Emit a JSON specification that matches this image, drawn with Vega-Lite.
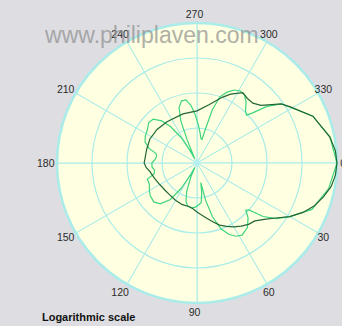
{
  "$schema": "https://vega.github.io/schema/vega-lite/v6.json",
  "width": 280,
  "height": 280,
  "autosize": "none",
  "padding": {"left": 57, "top": 23, "right": 5, "bottom": 23},
  "background": "#dedee2",
  "config": {"view": {"stroke": null}, "text": {"font": "Liberation Sans"}},
  "datasets": {
    "sectors": [
      {"sector": 0, "span": 30}, {"sector": 30, "span": 30}, {"sector": 60, "span": 30},
      {"sector": 90, "span": 30}, {"sector": 120, "span": 30}, {"sector": 150, "span": 30},
      {"sector": 180, "span": 30}, {"sector": 210, "span": 30}, {"sector": 240, "span": 30},
      {"sector": 270, "span": 30}, {"sector": 300, "span": 30}, {"sector": 330, "span": 30}
    ],
    "rings": [{"ring": 1}, {"ring": 2}, {"ring": 3}, {"ring": 4}],
    "angleLabels": [
      {"a": 0, "lab": "0"}, {"a": 30, "lab": "30"}, {"a": 60, "lab": "60"}, {"a": 90, "lab": "90"},
      {"a": 120, "lab": "120"}, {"a": 150, "lab": "150"}, {"a": 180, "lab": "180"}, {"a": 210, "lab": "210"},
      {"a": 240, "lab": "240"}, {"a": 270, "lab": "270"}, {"a": 300, "lab": "300"}, {"a": 330, "lab": "330"}
    ],
    "scatter": [
      {"pol": "parallel", "a": 0, "logI": 0},
      {"pol": "parallel", "a": 11, "logI": -0.17},
      {"pol": "parallel", "a": 22, "logI": -0.46},
      {"pol": "parallel", "a": 30, "logI": -0.94},
      {"pol": "parallel", "a": 35, "logI": -1.23},
      {"pol": "parallel", "a": 39, "logI": -1.57},
      {"pol": "parallel", "a": 42, "logI": -2.0},
      {"pol": "parallel", "a": 44, "logI": -2.06},
      {"pol": "parallel", "a": 47, "logI": -1.86},
      {"pol": "parallel", "a": 52, "logI": -1.66},
      {"pol": "parallel", "a": 58, "logI": -1.57},
      {"pol": "parallel", "a": 62, "logI": -1.63},
      {"pol": "parallel", "a": 66, "logI": -1.77},
      {"pol": "parallel", "a": 70, "logI": -2.0},
      {"pol": "parallel", "a": 74, "logI": -2.4},
      {"pol": "parallel", "a": 77, "logI": -2.91},
      {"pol": "parallel", "a": 79, "logI": -3.43},
      {"pol": "parallel", "a": 81, "logI": -3.14},
      {"pol": "parallel", "a": 84, "logI": -2.86},
      {"pol": "parallel", "a": 88, "logI": -2.8},
      {"pol": "parallel", "a": 92, "logI": -2.74},
      {"pol": "parallel", "a": 97, "logI": -2.71},
      {"pol": "parallel", "a": 102, "logI": -2.74},
      {"pol": "parallel", "a": 106, "logI": -2.86},
      {"pol": "parallel", "a": 110, "logI": -3.14},
      {"pol": "parallel", "a": 114, "logI": -3.57},
      {"pol": "parallel", "a": 116, "logI": -3.86},
      {"pol": "parallel", "a": 118, "logI": -3.66},
      {"pol": "parallel", "a": 122, "logI": -3.14},
      {"pol": "parallel", "a": 126, "logI": -2.71},
      {"pol": "parallel", "a": 132, "logI": -2.43},
      {"pol": "parallel", "a": 138, "logI": -2.34},
      {"pol": "parallel", "a": 145, "logI": -2.37},
      {"pol": "parallel", "a": 150, "logI": -2.43},
      {"pol": "parallel", "a": 156, "logI": -2.51},
      {"pol": "parallel", "a": 162, "logI": -2.51},
      {"pol": "parallel", "a": 166, "logI": -2.74},
      {"pol": "parallel", "a": 170, "logI": -2.77},
      {"pol": "parallel", "a": 175, "logI": -2.71},
      {"pol": "parallel", "a": 180, "logI": -2.71},
      {"pol": "parallel", "a": 185, "logI": -2.8},
      {"pol": "parallel", "a": 190, "logI": -2.83},
      {"pol": "parallel", "a": 193, "logI": -2.8},
      {"pol": "parallel", "a": 197, "logI": -2.57},
      {"pol": "parallel", "a": 202, "logI": -2.4},
      {"pol": "parallel", "a": 207, "logI": -2.34},
      {"pol": "parallel", "a": 214, "logI": -2.29},
      {"pol": "parallel", "a": 220, "logI": -2.2},
      {"pol": "parallel", "a": 225, "logI": -2.23},
      {"pol": "parallel", "a": 230, "logI": -2.43},
      {"pol": "parallel", "a": 234, "logI": -2.71},
      {"pol": "parallel", "a": 238, "logI": -3.14},
      {"pol": "parallel", "a": 241, "logI": -3.57},
      {"pol": "parallel", "a": 243, "logI": -3.86},
      {"pol": "parallel", "a": 245, "logI": -3.71},
      {"pol": "parallel", "a": 247, "logI": -3.29},
      {"pol": "parallel", "a": 249, "logI": -2.71},
      {"pol": "parallel", "a": 252, "logI": -2.34},
      {"pol": "parallel", "a": 256, "logI": -2.17},
      {"pol": "parallel", "a": 260, "logI": -2.17},
      {"pol": "parallel", "a": 264, "logI": -2.34},
      {"pol": "parallel", "a": 268, "logI": -2.63},
      {"pol": "parallel", "a": 272, "logI": -2.91},
      {"pol": "parallel", "a": 276, "logI": -3.14},
      {"pol": "parallel", "a": 279, "logI": -3.29},
      {"pol": "parallel", "a": 282, "logI": -3.31},
      {"pol": "parallel", "a": 284, "logI": -3.0},
      {"pol": "parallel", "a": 286, "logI": -2.43},
      {"pol": "parallel", "a": 289, "logI": -2.0},
      {"pol": "parallel", "a": 293, "logI": -1.8},
      {"pol": "parallel", "a": 297, "logI": -1.66},
      {"pol": "parallel", "a": 301, "logI": -1.6},
      {"pol": "parallel", "a": 305, "logI": -1.63},
      {"pol": "parallel", "a": 309, "logI": -1.77},
      {"pol": "parallel", "a": 313, "logI": -1.97},
      {"pol": "parallel", "a": 316, "logI": -2.03},
      {"pol": "parallel", "a": 318, "logI": -1.86},
      {"pol": "parallel", "a": 321, "logI": -1.43},
      {"pol": "parallel", "a": 325, "logI": -1.06},
      {"pol": "parallel", "a": 330, "logI": -0.86},
      {"pol": "parallel", "a": 338, "logI": -0.43},
      {"pol": "parallel", "a": 349, "logI": -0.13},
      {"pol": "parallel", "a": 360, "logI": 0},
      {"pol": "perpendicular", "a": 0, "logI": 0},
      {"pol": "perpendicular", "a": 5, "logI": -0.03},
      {"pol": "perpendicular", "a": 10, "logI": -0.11},
      {"pol": "perpendicular", "a": 15, "logI": -0.26},
      {"pol": "perpendicular", "a": 20, "logI": -0.43},
      {"pol": "perpendicular", "a": 25, "logI": -0.66},
      {"pol": "perpendicular", "a": 30, "logI": -0.94},
      {"pol": "perpendicular", "a": 35, "logI": -1.26},
      {"pol": "perpendicular", "a": 40, "logI": -1.49},
      {"pol": "perpendicular", "a": 45, "logI": -1.66},
      {"pol": "perpendicular", "a": 50, "logI": -1.71},
      {"pol": "perpendicular", "a": 55, "logI": -1.8},
      {"pol": "perpendicular", "a": 60, "logI": -1.89},
      {"pol": "perpendicular", "a": 65, "logI": -2.0},
      {"pol": "perpendicular", "a": 70, "logI": -2.11},
      {"pol": "perpendicular", "a": 75, "logI": -2.26},
      {"pol": "perpendicular", "a": 80, "logI": -2.4},
      {"pol": "perpendicular", "a": 85, "logI": -2.51},
      {"pol": "perpendicular", "a": 90, "logI": -2.6},
      {"pol": "perpendicular", "a": 95, "logI": -2.69},
      {"pol": "perpendicular", "a": 100, "logI": -2.73},
      {"pol": "perpendicular", "a": 110, "logI": -2.74},
      {"pol": "perpendicular", "a": 120, "logI": -2.77},
      {"pol": "perpendicular", "a": 130, "logI": -2.8},
      {"pol": "perpendicular", "a": 140, "logI": -2.8},
      {"pol": "perpendicular", "a": 150, "logI": -2.77},
      {"pol": "perpendicular", "a": 160, "logI": -2.71},
      {"pol": "perpendicular", "a": 170, "logI": -2.63},
      {"pol": "perpendicular", "a": 175, "logI": -2.54},
      {"pol": "perpendicular", "a": 180, "logI": -2.49},
      {"pol": "perpendicular", "a": 185, "logI": -2.51},
      {"pol": "perpendicular", "a": 195, "logI": -2.51},
      {"pol": "perpendicular", "a": 207, "logI": -2.49},
      {"pol": "perpendicular", "a": 220, "logI": -2.51},
      {"pol": "perpendicular", "a": 234, "logI": -2.54},
      {"pol": "perpendicular", "a": 254, "logI": -2.54},
      {"pol": "perpendicular", "a": 270, "logI": -2.51},
      {"pol": "perpendicular", "a": 282, "logI": -2.29},
      {"pol": "perpendicular", "a": 291, "logI": -1.99},
      {"pol": "perpendicular", "a": 296, "logI": -1.81},
      {"pol": "perpendicular", "a": 303, "logI": -1.6},
      {"pol": "perpendicular", "a": 308, "logI": -1.66},
      {"pol": "perpendicular", "a": 313, "logI": -1.66},
      {"pol": "perpendicular", "a": 318, "logI": -1.54},
      {"pol": "perpendicular", "a": 322, "logI": -1.29},
      {"pol": "perpendicular", "a": 325, "logI": -1.06},
      {"pol": "perpendicular", "a": 329, "logI": -0.89},
      {"pol": "perpendicular", "a": 338, "logI": -0.43},
      {"pol": "perpendicular", "a": 349, "logI": -0.13},
      {"pol": "perpendicular", "a": 355, "logI": -0.03},
      {"pol": "perpendicular", "a": 360, "logI": 0}
    ]
  },
  "layer": [
    {
      "data": {"name": "sectors"},
      "mark": {"type": "arc", "fill": "#ffffe1", "stroke": "#a9ecea", "strokeWidth": 1},
      "encoding": {
        "theta": {"field": "span", "type": "quantitative", "stack": true},
        "radius": {"datum": 4, "type": "quantitative", "stack": null, "scale": {"type": "linear", "domain": [0, 4], "zero": true}},
        "order": {"field": "sector"}
      }
    },
    {
      "data": {"name": "rings"},
      "mark": {"type": "arc", "filled": false, "stroke": "#a9ecea", "theta": 0, "theta2": 6.2832},
      "encoding": {
        "radius": {"field": "ring", "type": "quantitative", "stack": null},
        "strokeWidth": {"condition": {"test": "datum.ring == 4", "value": 2.5}, "value": 1.2}
      }
    },
    {
      "data": {"values": [{"r": 0}]},
      "mark": {"type": "point", "filled": true, "color": "#b4f0f0", "opacity": 0.9, "size": 40},
      "encoding": {
        "x": {"datum": 0, "type": "quantitative", "scale": {"domain": [-4, 4]}, "axis": null},
        "y": {"datum": 0, "type": "quantitative", "scale": {"domain": [-4, 4], "reverse": true}, "axis": null}
      }
    },
    {
      "data": {"name": "scatter"},
      "transform": [
        {"calculate": "max(0, datum.logI + 4)", "as": "rr"},
        {"calculate": "datum.rr * cos(datum.a * PI / 180)", "as": "px"},
        {"calculate": "datum.rr * sin(datum.a * PI / 180)", "as": "py"}
      ],
      "mark": {"type": "line", "strokeWidth": 1.2},
      "encoding": {
        "x": {"field": "px", "type": "quantitative", "scale": {"domain": [-4, 4]}, "axis": null},
        "y": {"field": "py", "type": "quantitative", "scale": {"domain": [-4, 4], "reverse": true}, "axis": null},
        "color": {"field": "pol", "type": "nominal", "scale": {"domain": ["parallel", "perpendicular"], "range": ["#3ed47c", "#236638"]}, "legend": null},
        "order": {"field": "a", "type": "quantitative"}
      }
    },
    {
      "data": {"name": "angleLabels"},
      "transform": [
        {"calculate": "4.25 * cos(datum.a * PI / 180)", "as": "px"},
        {"calculate": "4.25 * sin(datum.a * PI / 180)", "as": "py"}
      ],
      "mark": {"type": "text", "fontSize": 10.5, "color": "#2a2a2a", "baseline": "middle", "align": "center", "dx": -2.5, "dy": 1},
      "encoding": {
        "x": {"field": "px", "type": "quantitative"},
        "y": {"field": "py", "type": "quantitative"},
        "text": {"field": "lab"}
      }
    },
    {
      "data": {"values": [{"t": "www.philiplaven.com"}]},
      "mark": {"type": "text", "fontSize": 23, "color": "#8f8f8f", "opacity": 0.7, "baseline": "alphabetic", "align": "center"},
      "encoding": {
        "x": {"datum": -1.29, "type": "quantitative"},
        "y": {"datum": -3.43, "type": "quantitative"},
        "text": {"field": "t"}
      }
    },
    {
      "data": {"values": [{"t": "Logarithmic scale"}]},
      "mark": {"type": "text", "fontSize": 11, "fontWeight": "bold", "color": "#111111", "baseline": "alphabetic", "align": "left"},
      "encoding": {
        "x": {"datum": -4.43, "type": "quantitative"},
        "y": {"datum": 4.5, "type": "quantitative"},
        "text": {"field": "t"}
      }
    }
  ]
}
